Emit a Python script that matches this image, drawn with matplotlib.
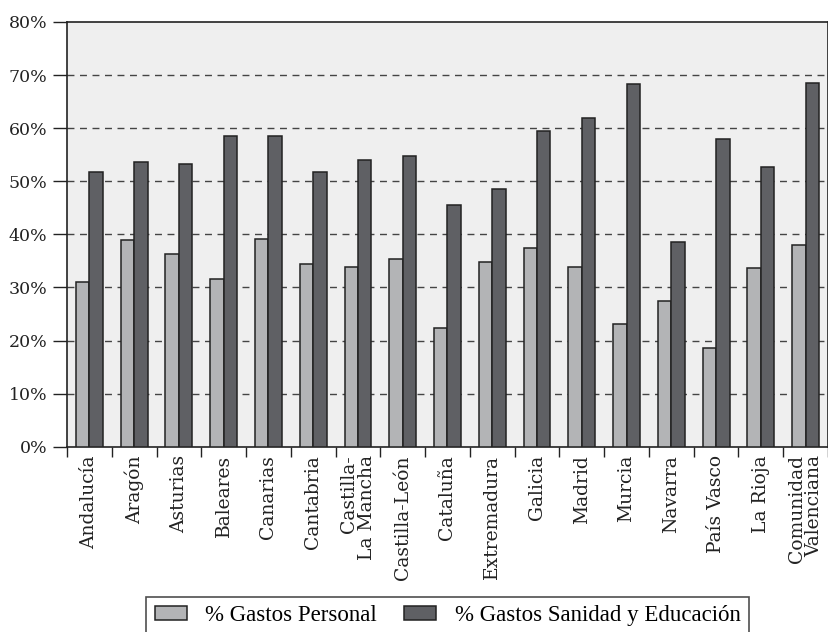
import matplotlib
matplotlib.use("Agg")
import matplotlib.pyplot as plt
import numpy as np
from matplotlib.ticker import FuncFormatter, FixedLocator

regiones = ["Andalucía", "Aragón", "Asturias", "Baleares", "Canarias", "Cantabria",
            "Castilla-\nLa Mancha", "Castilla-León", "Cataluña", "Extremadura", "Galicia",
            "Madrid", "Murcia", "Navarra", "País Vasco", "La Rioja", "Comunidad\nValenciana"]
gastos_personal = [31.0, 38.9, 36.3, 31.5, 39.1, 34.5, 33.8, 35.4, 22.3, 34.7, 37.4,
                   33.8, 23.2, 27.4, 18.6, 33.7, 38.0]
gastos_sanidad_educacion = [51.8, 53.6, 53.3, 58.5, 58.5, 51.8, 54.0, 54.7, 45.5, 48.5,
                            59.4, 62.0, 68.3, 38.6, 57.9, 52.7, 68.5]
serie_labels = ["% Gastos Personal", "% Gastos Sanidad y Educación"]

plt.rcParams["font.family"] = ["DejaVu Serif", "Liberation Serif"]

fig = plt.figure(figsize=(8.29, 6.32), dpi=100)
ax = fig.add_axes([67 / 829, 1 - 446.7 / 632, (828 - 67) / 829, (446.7 - 22) / 632])

x = np.arange(len(regiones))
w = 0.3
ax.set_facecolor("#efefef")
ax.bar(x - w / 2, gastos_personal, w, color="#b3b4b6", edgecolor="#222222",
       linewidth=1.1, label=serie_labels[0], zorder=3)
ax.bar(x + w / 2, gastos_sanidad_educacion, w, color="#5f6064", edgecolor="#222222",
       linewidth=1.1, label=serie_labels[1], zorder=3)

ax.set_xlim(-0.5, len(regiones) - 0.5)
ax.set_ylim(0, 80)
ax.set_yticks(np.arange(0, 81, 10))
ax.yaxis.set_major_formatter(FuncFormatter(lambda v, p: f"{v:.0f}%"))
ax.tick_params(axis="y", direction="out", length=10, width=1, labelsize=12.5,
               colors="#222222", pad=4)
for yv in range(10, 80, 10):
    ax.axhline(yv, color="#444444", linestyle=(0, (5, 4)), linewidth=1.0, zorder=1)

# ticks at category boundaries, labels at centres
ax.xaxis.set_major_locator(FixedLocator(np.arange(-0.5, len(regiones), 1.0)))
ax.xaxis.set_major_formatter(FuncFormatter(lambda v, p: ""))
ax.xaxis.set_minor_locator(FixedLocator(x))
ax.set_xticklabels(regiones, minor=True, rotation=90, fontsize=13.5,
                   linespacing=1.0, va="top", ha="center", ma="right")
ax.tick_params(axis="x", which="major", direction="out", length=7, width=1, colors="#222222")
ax.tick_params(axis="x", which="minor", length=0, pad=6, labelcolor="#222222")

for s in ax.spines.values():
    s.set_color("#222222")
    s.set_linewidth(1.2)

leg = fig.legend(loc="upper center", bbox_to_anchor=(447.5 / 829, 1 - 597 / 632),
                 ncol=2, frameon=True, fancybox=False,
                 prop={"family": "Liberation Serif", "size": 16.5},
                 handlelength=1.4, handleheight=0.6, columnspacing=1.2,
                 borderpad=0.35, borderaxespad=0, edgecolor="#222222")
leg.get_frame().set_linewidth(1.2)

fig.savefig("out.png", dpi=100, facecolor="white")
